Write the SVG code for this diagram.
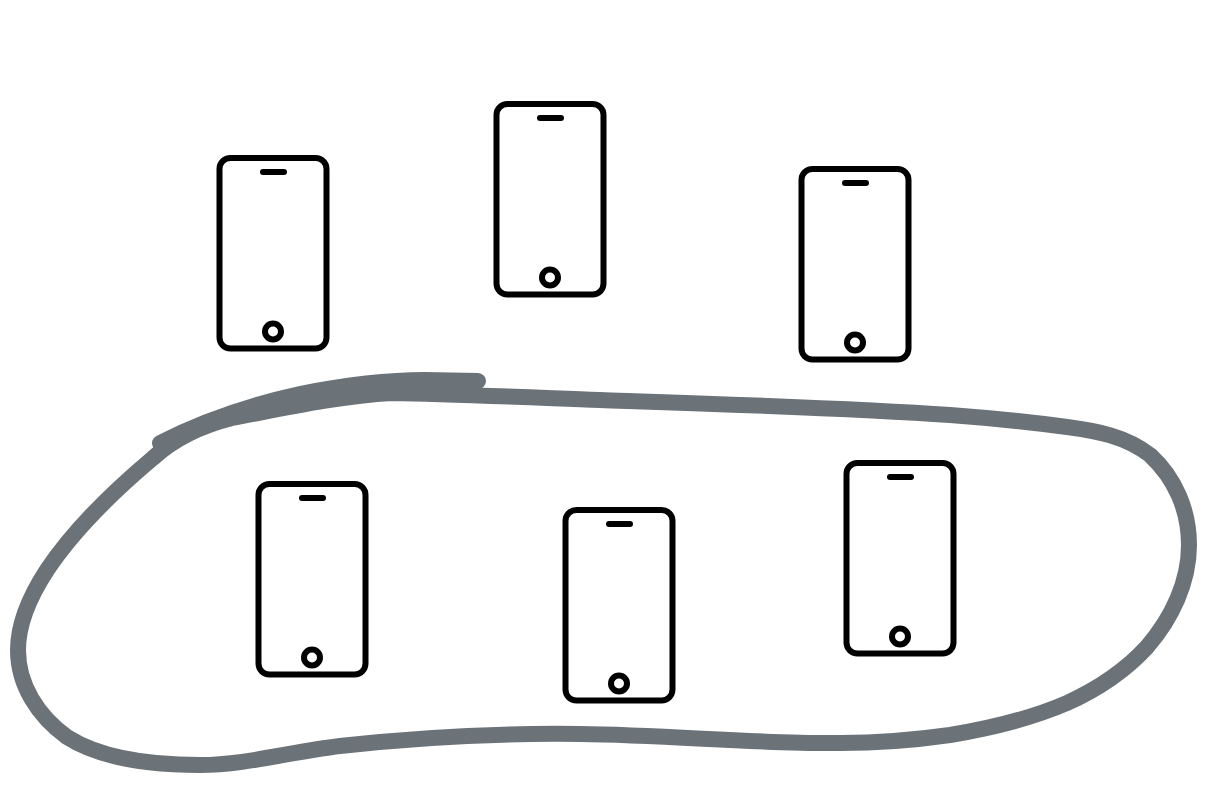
<svg xmlns="http://www.w3.org/2000/svg" width="1207" height="800" viewBox="0 0 1207 800">
<defs>
<style>
.b{fill:none;stroke:#000;stroke-width:6}
.s{fill:none;stroke:#000;stroke-width:6;stroke-linecap:round}
.o{fill:none;stroke:#6c7378;stroke-width:16;stroke-linecap:round;stroke-linejoin:round}
</style>
<g id="phone">
<rect class="b" x="2.500" y="3" width="107" height="190.500" rx="11"/>
<line class="s" x1="46" x2="67" y1="17" y2="17"/>
<circle class="b" cx="56" cy="176.500" r="8"/>
</g>
</defs>
<rect width="1207" height="800" fill="#fff"/>
<g id="phone1"><use href="#phone" x="217" y="155"/></g>
<g id="phone2"><use href="#phone" x="494" y="101"/></g>
<g id="phone3"><use href="#phone" x="799" y="166"/></g>
<g id="phone4"><use href="#phone" x="256" y="481"/></g>
<g id="phone5"><use href="#phone" x="563" y="507"/></g>
<g id="phone6"><use href="#phone" x="844" y="460"/></g>
<g id="connectors">
<path class="o" d="M160 443C205 420 250 405 300 394C345 385 385 380 425 380L478 381"/>
<path class="o" d="M153 458C115 490 75 528 47 570C30 596 18 622 18 650C18 685 38 716 67 737C100 758 150 765 200 765C245 765 290 752 340 746C420 737 500 733 580 734C670 735 760 744 840 743C880 743 915 740 950 735C992 728 1030 719 1067 703C1098 689 1124 672 1147 647C1172 618 1189 582 1189 545C1189 510 1175 478 1150 455C1125 436 1097 431 1067 427C1030 422 990 418 950 415C850 408 720 404 600 400C520 397 450 394 392 393C340 396 285 408 232 418C200 426 175 438 153 458"/>
</g>
</svg>
